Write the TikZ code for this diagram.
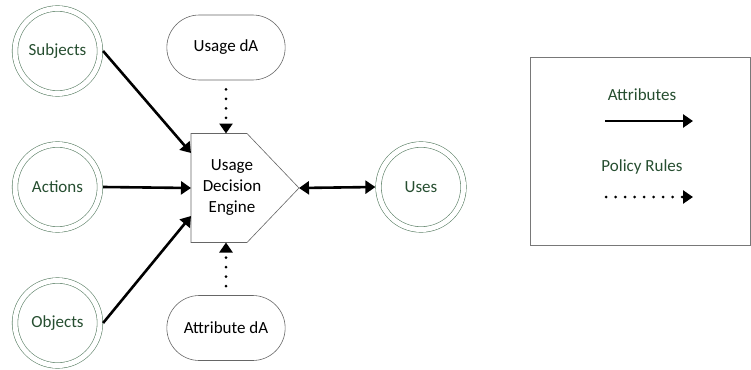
\documentclass[tikz,border=0pt]{standalone}
\usepackage{fontspec}
\setmainfont{Carlito}
\usepackage{tikz}
\usetikzlibrary{arrows.meta,shapes.misc}

\definecolor{txtgreen}{RGB}{38,78,48}
\definecolor{ringgreen}{RGB}{95,130,105}
\definecolor{boxgray}{RGB}{120,120,120}

\tikzset{
  actor/.style={circle, draw=ringgreen, line width=0.6pt, double, double distance=5pt,
                minimum size=85pt, inner sep=0pt, outer sep=3.1pt, text=txtgreen},
  store/.style={rounded rectangle, draw=black!60, line width=0.6pt,
                minimum width=125pt, minimum height=65pt},
  attrarrow/.style={line width=2.6pt, -{Triangle[length=10pt,width=13pt]}},
  rulearrow/.style={line width=3pt, line cap=round, dash pattern=on 0pt off 9.5pt,
                -{Triangle[length=10pt,width=13pt]}}
}

\begin{document}
\begin{tikzpicture}[x=1pt, y=-1pt, font=\fontsize{17}{21}\selectfont]

        \useasboundingbox (0,0) rectangle (751,369);

        \node [actor] (subjects) at (57.5,51)  {Subjects};                 %
        \node [actor] (actions)  at (57.5,187) {Actions};                  %
        \node [actor] (objects)  at (57.5,323) {Objects};                  %
        \node [actor] (uses)     at (421,187)  {Uses};                     %

        \node [store] (usageda)  at (226,47.5) {Usage dA};                 %
        \node [store] (attrda)   at (226,328)  {Attribute dA};             %

        \node [minimum width=108pt, minimum height=109pt, inner sep=0pt, outer sep=0pt]
              (engine) at (245,188) {};                                    %engine frame
        \draw [draw=black!60, line width=0.6pt, fill=white]
              (engine.north west) -- ([xshift=-52pt]engine.north east) -- (engine.east)
              -- ([xshift=-52pt]engine.south east) -- (engine.south west) -- cycle;
        \node [align=center] (enginetext) at (232,188) {Usage\\Decision\\Engine};

        \draw [attrarrow] (subjects.east) -- ([yshift=35pt]engine.west);   %
        \draw [attrarrow] (actions.east)  -- (engine.west);                %
        \draw [attrarrow] (objects.east)  -- ([yshift=-28pt]engine.west);  %
        \draw [attrarrow, {Triangle[length=10pt,width=13pt]}-{Triangle[length=10pt,width=13pt]}]
              (engine.east) -- (uses.west);                                %

        \draw [rulearrow, shorten <=9pt] (usageda.south) -- (usageda.south |- engine.north);
        \draw [rulearrow, shorten <=9pt] (attrda.north)  -- (attrda.north |- engine.south);

        \node [draw=boxgray, line width=0.8pt, minimum width=220pt, minimum height=188pt]
              (legend) at (640,151) {};                                    %legend
        \node [text=txtgreen] (attrlabel) at (642,95)  {Attributes};       %
        \node [text=txtgreen] (rulelabel) at (642,167) {Policy Rules};     %
        \coordinate (attrfrom) at (605,121);
        \coordinate (attrto)   at (693,121);
        \coordinate (rulefrom) at (606,197);
        \coordinate (ruleto)   at (693,197);
        \draw [attrarrow] (attrfrom) -- (attrto);                          %
        \draw [rulearrow] (rulefrom) -- (ruleto);                          %
\end{tikzpicture}
\end{document}
